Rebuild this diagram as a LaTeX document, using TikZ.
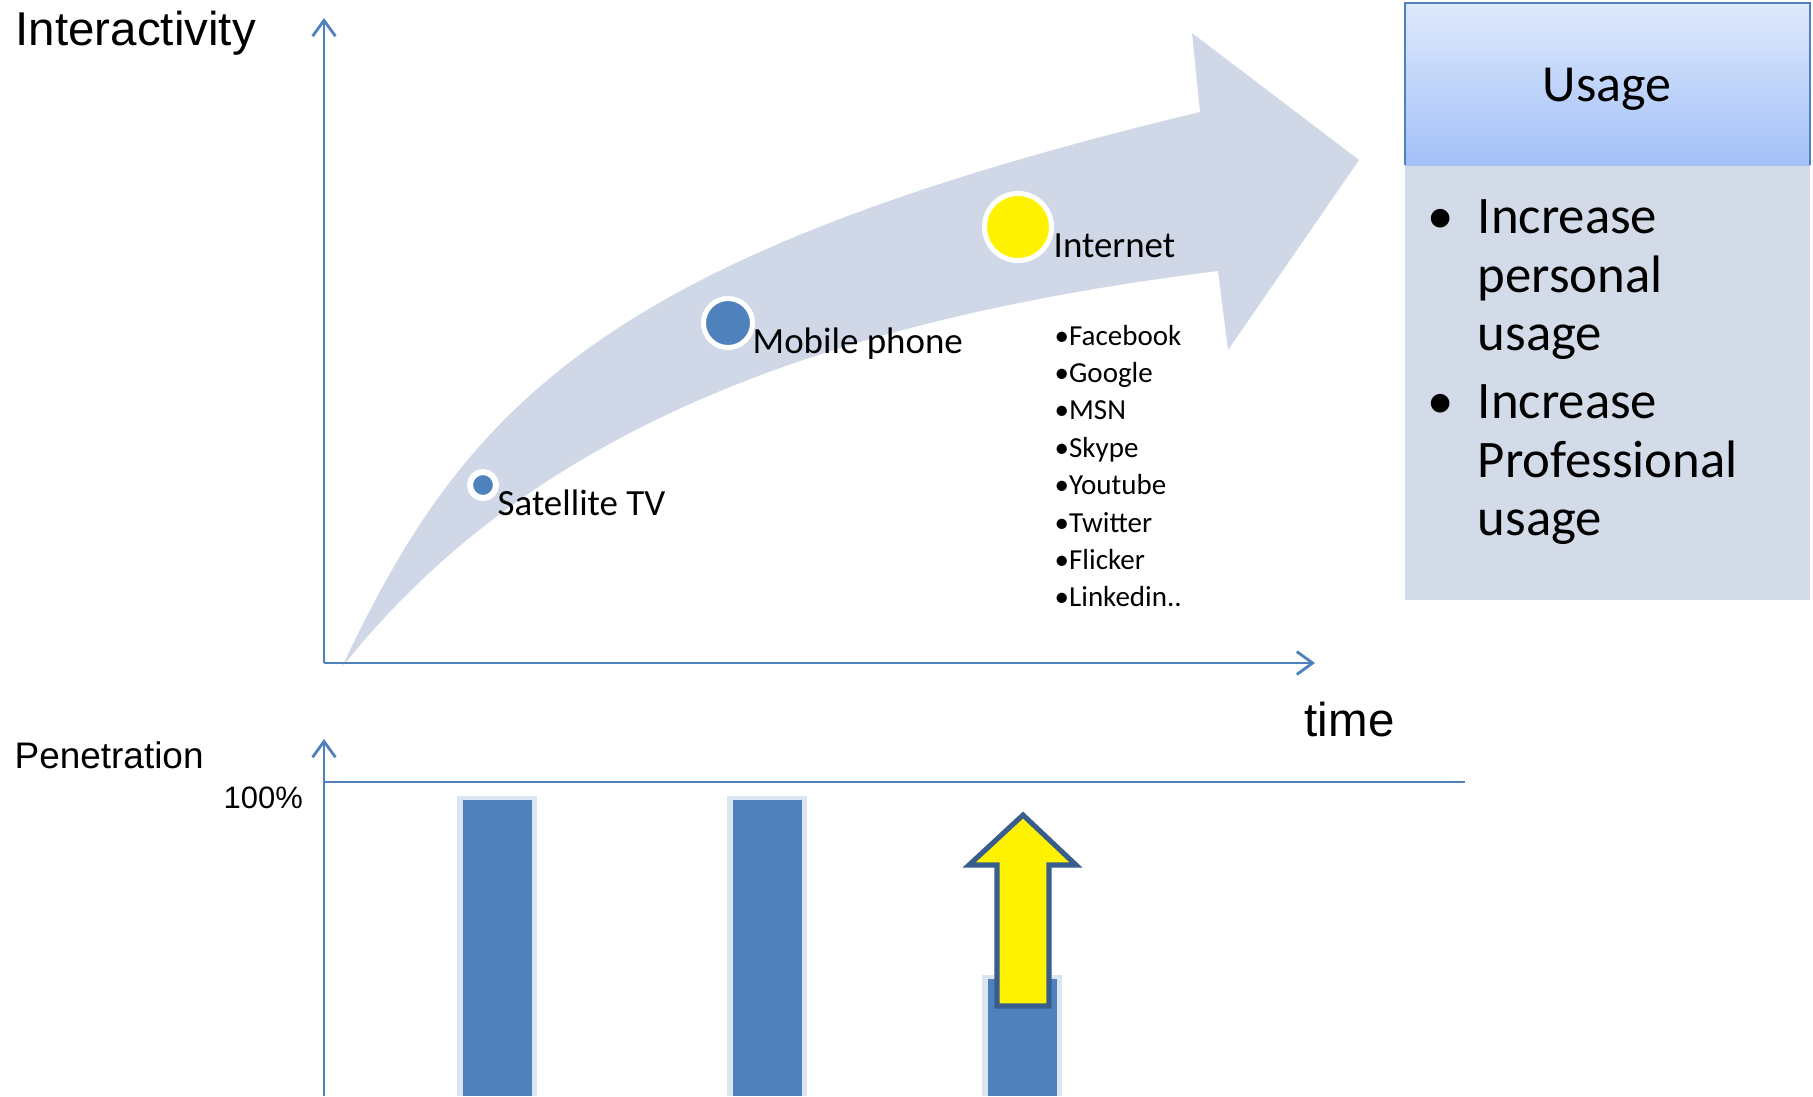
\documentclass[tikz,border=0pt]{standalone}
\usepackage{fontspec}
\setmainfont{Carlito}
\newfontfamily\arialfont{Liberation Sans}
\usetikzlibrary{arrows.meta}

\definecolor{axisblue}{RGB}{79,129,189}
\definecolor{bandgrey}{RGB}{208,216,232}
\definecolor{barglow}{RGB}{220,230,242}
\definecolor{headtop}{RGB}{222,233,252}
\definecolor{headbottom}{RGB}{162,192,248}
\definecolor{bodygrey}{RGB}{211,218,232}
\definecolor{arrowrim}{RGB}{58,94,140}

\tikzset{
  axis/.style={draw=axisblue, line width=0.8pt, -{Straight Barb[length=4.5pt,width=6.5pt]}},
  bigtitle/.style={anchor=base west, inner sep=0pt, font=\arialfont\fontsize{13.5}{16}\selectfont},
  smalltitle/.style={anchor=base west, inner sep=0pt, font=\arialfont\fontsize{10.5}{12}\selectfont},
  medialabel/.style={anchor=base west, inner sep=0pt, font=\fontsize{10.5}{12}\selectfont},
  listitem/.style={anchor=base west, inner sep=0pt, font=\fontsize{8.25}{10}\selectfont},
  usageline/.style={anchor=base west, inner sep=0pt, font=\fontsize{15}{17}\selectfont},
  mediadot/.style={circle, draw=white, inner sep=0pt},
}

\begin{document}
\begin{tikzpicture}[x=0.01cm, y=-0.01cm]
  \useasboundingbox (0,0) rectangle (1813,1096);
  \fill[white] (0,0) rectangle (1813,1096);

  % curved growth arrow
  \fill[bandgrey] (342,667) .. controls (465,406) and (600,256) .. (1200,112)
    -- (1192,33) -- (1359,160) -- (1228,350) -- (1218,271)
    .. controls (782,325) and (515,450) .. (342,667) -- cycle;

  % interactivity axes
  \coordinate (origin) at (324,663);
  \coordinate (ytop) at (324,18);
  \coordinate (xend) at (1315,663);
  \draw[axis] (origin) -- (ytop);
  \draw[axis] (origin) -- (xend);
  \node[bigtitle] (interactivity) at (15,45) {Interactivity};
  \node[bigtitle] (time) at (1304,736) {time};

  % media on the curve
  \node[mediadot, fill=axisblue, line width=1.71pt, minimum size=0.26cm] (sat) at (483,485) {};
  \node[mediadot, fill=axisblue, line width=1.42pt, minimum size=0.49cm] (mobile) at (728,323) {};
  \node[mediadot, fill=yellow, line width=1.42pt, minimum size=0.67cm] (net) at (1018,227) {};
  \node[medialabel] (satlabel) at (497,515) {Satellite TV};
  \node[medialabel] (mobilelabel) at (752,353) {Mobile phone};
  \node[medialabel] (netlabel) at (1053,257) {Internet};
  \foreach \site [count=\i from 0] in {Facebook, Google, MSN, Skype, Youtube, Twitter, Flicker, {Linkedin..}}
    \node[listitem] (web\i) at (1054,{345+37.4*\i}) {•\site};

  % usage box
  \fill[bodygrey] (1405,165) rectangle (1810,600);
  \shade[top color=headtop, bottom color=headbottom] (1405,3) rectangle (1810,165);
  \draw[axisblue, line width=0.7pt] (1405,165) -- (1405,3) -- (1810,3) -- (1810,165);
  \node[anchor=base, inner sep=0pt, font=\fontsize{14.8}{17}\selectfont] (usage) at (1607,101) {Usage};
  \foreach \yb in {233,418}
    \node[anchor=base, inner sep=0pt, font=\fontsize{15}{17}\selectfont] (dot\yb) at (1441,\yb) {•};
  \foreach \word/\yb [count=\i] in {Increase/233, personal/292, usage/350, Increase/418, Professional/477, usage/535}
    \node[usageline] (usageline\i) at (1477,\yb) {\word};

  % penetration axis
  \coordinate (pbottom) at (324,1096);
  \coordinate (ptop) at (324,739);
  \coordinate (fullstart) at (324,782);
  \coordinate (fullend) at (1465,782);
  \draw[axis] (pbottom) -- (ptop);
  \draw[draw=axisblue, line width=0.8pt] (fullstart) -- (fullend);
  \node[smalltitle] (penetration) at (14,768) {Penetration};
  \node[anchor=base west, inner sep=0pt, font=\arialfont\fontsize{8.8}{10}\selectfont] (hundred) at (223,808) {100\%};

  % bars
  \foreach \cx/\top in {497/796, 767/796, 1022/975} {
    \fill[barglow] (\cx-40,\top) rectangle (\cx+40,1096);
    \fill[axisblue] (\cx-34.5,\top+4) rectangle (\cx+34.5,1096);
  }

  % growth arrow on internet bar
  \draw[arrowrim, fill=yellow, line width=1.45pt, line join=miter]
    (1023,815) -- (1076,865) -- (1049,865) -- (1049,1006) -- (997,1006)
    -- (997,865) -- (969,865) -- cycle;
\end{tikzpicture}
\end{document}
